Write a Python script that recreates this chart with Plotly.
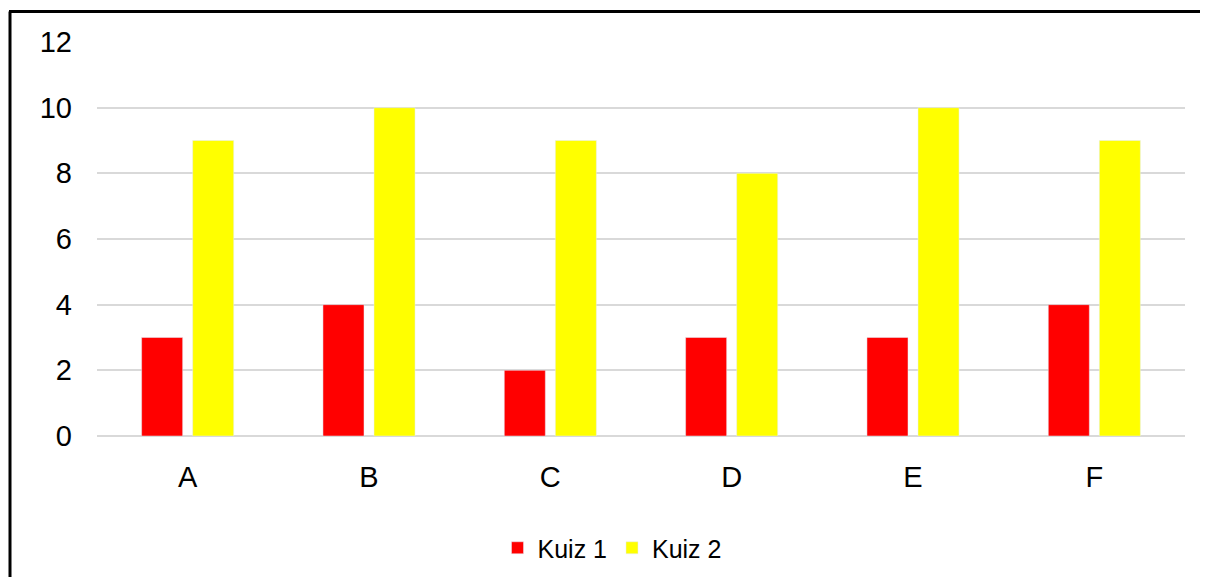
import plotly.graph_objects as go

categories = ["A", "B", "C", "D", "E", "F"]
kuiz1 = [3, 4, 2, 3, 3, 4]
kuiz2 = [9, 10, 9, 8, 10, 9]
y_ticks = [0, 2, 4, 6, 8, 10, 12]

FONT = "Liberation Sans, Arial, sans-serif"

fig = go.Figure()
fig.add_trace(go.Bar(x=categories, y=kuiz1, name="Kuiz 1", marker_color="#FF0000"))
fig.add_trace(go.Bar(x=categories, y=kuiz2, name="Kuiz 2", marker_color="#FFFF00"))

# page body has an 8px margin; work in screen coords and subtract it
OFF = 8
W, H = 1208 - OFF, 577 - OFF
L, T = 97 - OFF, 41.5 - OFF
pw, ph = 1088, 394.2
R = W - L - pw
B = H - T - ph

def px(x):
    return (x - OFF - L) / pw

def py(y):
    return (T + ph - (y - OFF)) / ph

frame = dict(color="#000000", width=3)

fig.update_layout(
    width=W, height=H,
    margin=dict(l=L, r=R, t=T, b=B, pad=0, autoexpand=False),
    paper_bgcolor="white", plot_bgcolor="white",
    barmode="group", bargap=0.437, bargroupgap=0.196,
    font=dict(family=FONT, color="#000000"),
    showlegend=True,
    legend=dict(orientation="h", xref="container", yref="container",
                x=(612 - OFF) / W, y=1 - (548 - OFF) / H, xanchor="center", yanchor="middle",
                font=dict(size=25, family=FONT, color="#000000"), traceorder="normal"),
    xaxis=dict(showgrid=False, showline=False, zeroline=False, ticks="", automargin=False,
               tickfont=dict(size=29, family=FONT, color="#000000"), ticklabelstandoff=21),
    yaxis=dict(range=[0, 12], tickvals=y_ticks, showgrid=True, gridcolor="#D9D9D9", gridwidth=1.5,
               zeroline=True, zerolinecolor="#D9D9D9", zerolinewidth=1.5, showline=False, ticks="",
               automargin=False,
               tickfont=dict(size=29, family=FONT, color="#000000"), ticklabelstandoff=24),
    shapes=[
        dict(type="line", xref="paper", yref="paper", x0=px(10), x1=px(10), y0=py(11), y1=py(577),
             line=frame, layer="above"),
        dict(type="line", xref="paper", yref="paper", x0=px(9), x1=px(1208), y0=py(11), y1=py(11),
             line=frame, layer="above"),
    ],
)

fig.write_html("out.html")
